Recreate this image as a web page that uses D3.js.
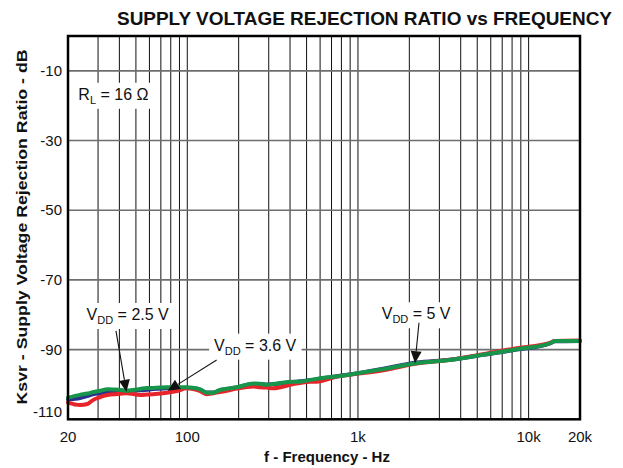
<!DOCTYPE html>
<html>
<head>
<meta charset="utf-8">
<script src="https://cdn.jsdelivr.net/npm/d3@7"></script>
<style>
  html, body { margin: 0; padding: 0; background: #fff; }
  svg { display: block; font-family: "Liberation Sans", Arial, sans-serif; }
</style>
</head>
<body>
<svg id="chart" width="623" height="468"></svg>
<script>
// ---- data ----
const freqHz = [20, 23.5, 26, 28, 31, 34, 40, 44, 53, 58, 63, 76, 87, 99, 110, 119, 130, 142, 155, 170, 195, 244, 267, 292, 318, 418, 457, 524, 573, 718, 785, 939, 1408, 2208, 3460, 5424, 8512, 13340, 14260, 20000];
const ksvrVdd25 = [-104.3, -103.9, -103.3, -102.8, -102.5, -102.2, -102.1, -102.0, -101.7, -101.5, -101.3, -101.1, -101.0, -101.0, -101.1, -101.5, -102.3, -102.3, -101.7, -101.3, -100.9, -99.9, -99.9, -100.0, -99.9, -99.3, -99.1, -98.8, -98.5, -97.8, -97.5, -97.0, -95.5, -93.7, -92.9, -91.5, -90.0, -88.2, -87.6, -87.5];
const ksvrVdd36 = [-105.2, -105.9, -105.6, -104.5, -103.6, -103.0, -102.7, -102.5, -103.0, -102.9, -102.8, -102.4, -101.9, -101.1, -101.4, -101.9, -102.8, -102.5, -102.2, -101.8, -101.2, -100.6, -100.8, -100.9, -101.1, -99.9, -99.6, -99.2, -99.2, -98.0, -97.6, -97.1, -95.9, -94.0, -92.9, -91.3, -89.6, -88.1, -87.5, -87.4];
const ksvrVdd5 = [-103.8, -103.0, -102.6, -102.2, -101.8, -101.4, -101.5, -101.8, -101.3, -101.0, -101.0, -100.8, -100.8, -100.8, -101.0, -101.4, -102.4, -102.4, -101.6, -101.2, -100.8, -99.7, -99.8, -100.1, -99.9, -99.2, -99.2, -98.7, -98.4, -97.8, -97.6, -97.0, -95.6, -93.9, -93.0, -91.5, -89.9, -88.2, -87.5, -87.5];
const seriesNames = ["VDD = 2.5 V", "VDD = 3.6 V", "VDD = 5 V"];
const seriesColors = ["#2b2f8f", "#e8242b", "#17964b"];

const yTicks = [-10, -30, -50, -70, -90, -110];
const xTickValues = [20, 100, 1000, 10000, 20000];
const xTickLabels = ["20", "100", "1k", "10k", "20k"];
const xGrid = [30,40,50,60,70,80,90,100,200,300,400,500,600,700,800,900,1000,2000,3000,4000,5000,6000,7000,8000,9000,10000];

// annotations in data units: text start (f, dB), arrow from and tip
const annotations = [
  { main: "V", sub: "DD", rest: " = 2.5 V", f: 25.7, v: -81.5, from: [38.2, -84.6], tip: [44, -102.1] },
  { main: "V", sub: "DD", rest: " = 3.6 V", f: 143.6, v: -90.3, from: [148.6, -93.0], tip: [76.8, -101.8] },
  { main: "V", sub: "DD", rest: " = 5 V", f: 1378, v: -81.3, from: [2278, -82.3], tip: [2159, -93.9] },
  { main: "R", sub: "L", rest: " = 16 \u03A9", f: 23.0, v: -18.3, from: null, tip: null }
];

// ---- layout ----
const svg = d3.select("#chart");
const L = 68, R = 580, T = 36, B = 419.3;
const x = d3.scaleLog().domain([20, 20000]).range([L, R]);
const y = d3.scaleLinear().domain([-110, 0]).range([B, T]);

// title
svg.append("text").attr("x", 117).attr("y", 24.5)
  .attr("font-size", 19).attr("font-weight", "bold").attr("fill", "#111")
  .attr("textLength", 495).attr("lengthAdjust", "spacingAndGlyphs")
  .text("SUPPLY VOLTAGE REJECTION RATIO vs FREQUENCY");

// grid
const g = svg.append("g");
g.selectAll("line.vg").data(xGrid).enter().append("line")
  .attr("x1", d => x(d)).attr("x2", d => x(d)).attr("y1", T).attr("y2", B)
  .attr("stroke", "#111").attr("stroke-width", 1);
g.selectAll("line.hg").data(yTicks.filter(d => d > -110)).enter().append("line")
  .attr("x1", L).attr("x2", R).attr("y1", d => y(d)).attr("y2", d => y(d))
  .attr("stroke", "#6e6e6e").attr("stroke-width", 1.6);

// series
const line = d3.line().x(d => x(d[0])).y(d => y(d[1])).curve(d3.curveMonotoneX);
[ksvrVdd25, ksvrVdd36, ksvrVdd5].forEach((vals, i) => {
  svg.append("path").datum(freqHz.map((f, k) => [f, vals[k]]))
    .attr("d", line).attr("fill", "none")
    .attr("stroke", seriesColors[i]).attr("stroke-width", 4)
    .attr("stroke-linejoin", "round").attr("stroke-linecap", "round");
});

// frame
svg.append("rect").attr("x", L).attr("y", T).attr("width", R - L).attr("height", B - T)
  .attr("fill", "none").attr("stroke", "#000").attr("stroke-width", 2.5);

// y axis tick labels
svg.selectAll("text.yt").data(yTicks).enter().append("text")
  .attr("x", 62).attr("y", d => d === -110 ? y(d) - 2 : y(d) + 5)
  .attr("text-anchor", "end").attr("font-size", 15).attr("fill", "#111")
  .text(d => d);

// x axis tick labels
svg.selectAll("text.xt").data(xTickValues).enter().append("text")
  .attr("x", d => x(d)).attr("y", 442)
  .attr("text-anchor", "middle").attr("font-size", 15).attr("fill", "#111")
  .text((d, i) => xTickLabels[i]);

// axis titles
svg.append("text").attr("x", 327).attr("y", 462)
  .attr("text-anchor", "middle").attr("font-size", 15).attr("font-weight", "bold").attr("fill", "#111")
  .text("f - Frequency - Hz");
svg.append("text").attr("transform", "translate(26.5,227) rotate(-90)")
  .attr("text-anchor", "middle").attr("font-size", 15).attr("font-weight", "bold").attr("fill", "#111")
  .attr("textLength", 355).attr("lengthAdjust", "spacingAndGlyphs")
  .text("Ksvr - Supply Voltage Rejection Ratio - dB");

// annotations
annotations.forEach(a => {
  const ga = svg.append("g");
  const bg = ga.append("rect").attr("fill", "#fff");
  const t = ga.append("text").attr("x", x(a.f)).attr("y", y(a.v))
    .attr("font-size", 16).attr("fill", "#111");
  t.append("tspan").text(a.main);
  t.append("tspan").attr("font-size", 11).attr("dy", 4).text(a.sub);
  t.append("tspan").attr("dy", -4).text(a.rest);
  const bb = t.node().getBBox();
  bg.attr("x", bb.x - 5).attr("y", bb.y - 3).attr("width", bb.width + 10).attr("height", bb.height + 6);
  if (a.tip) {
    const x1 = x(a.from[0]), y1 = y(a.from[1]), x2 = x(a.tip[0]), y2 = y(a.tip[1]);
    const ang = Math.atan2(y2 - y1, x2 - x1);
    const len = 12, hw = 5.5;
    const bx = x2 - len * Math.cos(ang), by = y2 - len * Math.sin(ang);
    ga.append("line").attr("x1", x1).attr("y1", y1).attr("x2", bx).attr("y2", by)
      .attr("stroke", "#111").attr("stroke-width", 1.1);
    const px = -Math.sin(ang), py = Math.cos(ang);
    ga.append("path")
      .attr("d", `M${x2},${y2}L${bx + hw * px},${by + hw * py}L${bx - hw * px},${by - hw * py}Z`)
      .attr("fill", "#111");
  }
});
</script>
</body>
</html>
